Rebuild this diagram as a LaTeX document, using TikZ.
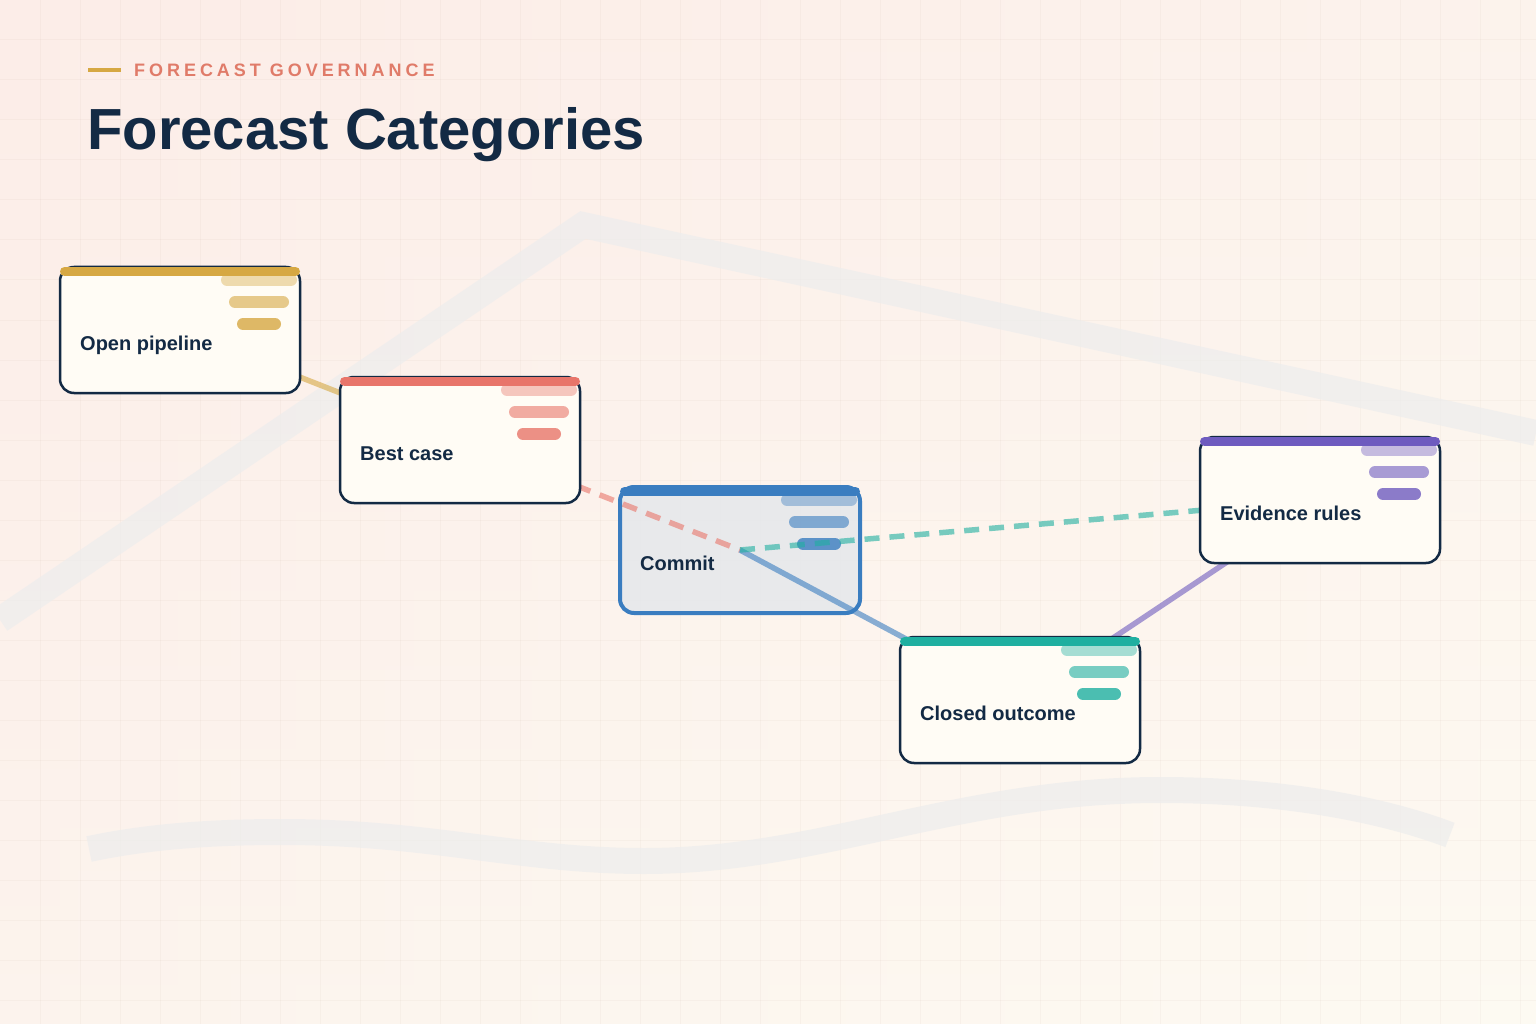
\documentclass[tikz,border=0pt]{standalone}
\usepackage{fontspec}
\setmainfont{Liberation Sans}
\usetikzlibrary{positioning,calc}

\definecolor{ink}{HTML}{132A44}
\definecolor{bgrose}{HTML}{FCEDE8}
\definecolor{bgcream}{HTML}{FDFAF2}
\definecolor{gridink}{HTML}{8C6A5A}
\definecolor{swooshgray}{HTML}{EDEDED}
\definecolor{cardfill}{HTML}{FFFCF5}
\definecolor{commitfill}{HTML}{E5E8EB}
\definecolor{accGold}{HTML}{D6A843}
\definecolor{accCoral}{HTML}{E8756A}
\definecolor{accBlue}{HTML}{3A7DC0}
\definecolor{accTeal}{HTML}{1FAFA0}
\definecolor{accViolet}{HTML}{6E5BBF}
\definecolor{eyebrowred}{HTML}{E07B69}

\pgfdeclarelayer{backdrop}
\pgfdeclarelayer{links}
\pgfsetlayers{backdrop,links,main}

% bars, top strip and label of one card
\newcommand{\carddeco}[3]{%
  \foreach \w/\dy/\op in {32/13/.4, 24/35/.6, 16/57/.8}
    \draw[pill, draw=#2, draw opacity=\op]
      ([shift={(-41-\w,\dy)}]#1.north east) -- ([shift={(-41+\w,\dy)}]#1.north east);
  \draw[topbar, draw=#2] ([shift={(4.5,4.5)}]#1.north west) -- ([shift={(-4.5,4.5)}]#1.north east);
  \node[cardlabel, anchor=base west] (#1-label) at ([shift={(20,83)}]#1.north west) {#3};
}

\begin{document}
\begin{tikzpicture}[
  x=1pt, y=-1pt,
  gridline/.style={draw=gridink, opacity=.045, line width=1pt},
  swoosh/.style={draw=swooshgray, opacity=.7, line width=26pt, line join=miter},
  kicker/.style={draw=accGold, line width=4pt},
  eyebrow/.style={inner sep=0pt, text=eyebrowred,
              font=\fontsize{18}{22}\selectfont\bfseries\addfontfeature{LetterSpace=22}},
  headline/.style={inner sep=0pt, text=ink, font=\fontsize{58}{64}\selectfont\bfseries},
  card/.style={rectangle, draw=ink, line width=2.5pt, fill=cardfill,
              rounded corners=14pt, minimum width=240pt, minimum height=126pt,
              inner sep=0pt, outer sep=0pt},
  commit/.style={draw=accBlue, line width=4pt, fill=commitfill, fill opacity=.85},
  cardlabel/.style={inner sep=0pt, text=ink, font=\fontsize{20}{24}\selectfont\bfseries},
  pill/.style={line width=12pt, line cap=round},
  topbar/.style={line width=9pt, line cap=round},
  link/.style={line width=5.5pt, draw opacity=.6},
  dashlink/.style={dash pattern=on 15pt off 10pt},
]
\useasboundingbox (0,0) rectangle (1536,1024);

\begin{pgfonlayer}{backdrop}
\shade[left color=bgrose, right color=bgcream] (0,0) rectangle (1536,1024);
\shade[top color=bgrose, bottom color=bgcream, opacity=.5] (0,0) rectangle (1536,1024);
\foreach \g in {40,80,...,1520} \draw[gridline] (\g,0) -- (\g,1024);
\foreach \g in {40,80,...,1000} \draw[gridline] (0,\g) -- (1536,\g);
\draw[swoosh] (0,620) -- (583,225) -- (1536,433);
\draw[swoosh] (89,849) .. controls (150,836) and (215,832) .. (282,832)
  .. controls (430,832) and (520,861) .. (644,861)
  .. controls (820,861) and (960,790) .. (1160,790)
  .. controls (1290,790) and (1390,812) .. (1450,835);
\end{pgfonlayer}

% header
\draw[kicker] (88,70) -- (121,70);
\node[eyebrow, anchor=base west] (eyebrow) at (134,77) {FORECAST GOVERNANCE};
\node[headline, anchor=base west] (headline) at (87,150) {Forecast Categories};

% cards
\node[card] (open) at (180,330) {};
\carddeco{open}{accGold}{Open pipeline}
\node[card, right=40pt of open, yshift=-110pt] (best) {};
\carddeco{best}{accCoral}{Best case}
\begin{pgfonlayer}{backdrop}
\node[card, commit, right=40pt of best, yshift=-110pt] (commit) {};
\carddeco{commit}{accBlue}{Commit}
\end{pgfonlayer}
\node[card, right=40pt of commit, yshift=-150pt] (closed) {};
\carddeco{closed}{accTeal}{Closed outcome}
\node[card, right=60pt of closed, yshift=200pt] (evidence) {};
\carddeco{evidence}{accViolet}{Evidence rules}

% links
\begin{pgfonlayer}{links}
\draw[link, draw=accGold] (open.center) -- (best.center);
\draw[link, dashlink, draw=accCoral] (best.center) -- (commit.center);
\draw[link, draw=accBlue] (commit.center) -- (closed.center);
\draw[link, dashlink, draw=accTeal] (commit.center) -- (evidence.center);
\draw[link, draw=accViolet] (closed.center) -- (evidence.center);
\end{pgfonlayer}
\end{tikzpicture}
\end{document}
